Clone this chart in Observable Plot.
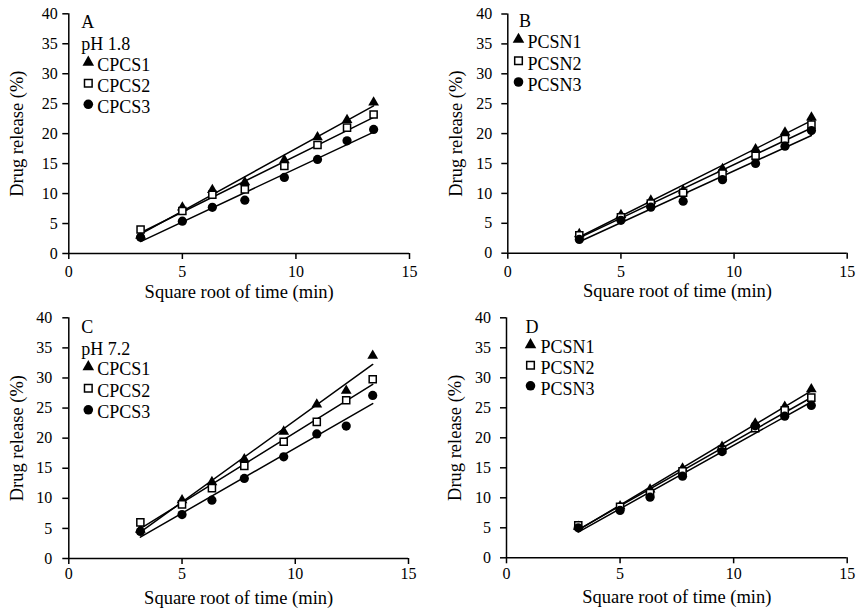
<!DOCTYPE html>
<html><head><meta charset="utf-8">
<script src="https://cdn.jsdelivr.net/npm/d3@7"></script>
<script src="https://cdn.jsdelivr.net/npm/@observablehq/plot@0.6"></script>
<style>
body{margin:0;background:#fff;}
#chart{position:relative;width:856px;height:613px;overflow:hidden;}
#chart svg{position:absolute;}
</style></head><body><div id="chart"></div>
<script>
// ---- data ----
const sqrtTime = [3.16, 5.00, 6.32, 7.75, 9.49, 10.95, 12.25, 13.42];
const xTicks = [0, 5, 10, 15];
const yTicks = [0, 5, 10, 15, 20, 25, 30, 35, 40];
const xLabel = "Square root of time (min)";
const yLabel = "Drug release (%)";

const panelA_titles = ["A", "pH 1.8"];
const panelA_names = ["CPCS1", "CPCS2", "CPCS3"];
const CPCS1_pH18 = [3.0, 7.7, 10.6, 11.9, 15.6, 19.4, 22.3, 25.2];
const CPCS2_pH18 = [4.0, 7.1, 9.8, 10.7, 14.6, 18.1, 21.0, 23.2];
const CPCS3_pH18 = [2.7, 5.4, 7.7, 8.9, 12.7, 15.7, 18.8, 20.7];

const panelB_titles = ["B"];
const panelB_names = ["PCSN1", "PCSN2", "PCSN3"];
const PCSN1_pH18 = [3.2, 6.4, 8.8, 10.5, 14.1, 17.4, 20.2, 22.7];
const PCSN2_pH18 = [3.0, 6.0, 8.3, 10.1, 13.3, 16.3, 19.1, 21.5];
const PCSN3_pH18 = [2.3, 5.5, 7.7, 8.7, 12.3, 15.0, 17.9, 20.5];

const panelC_titles = ["C", "pH 7.2"];
const panelC_names = ["CPCS1", "CPCS2", "CPCS3"];
const CPCS1_pH72 = [4.8, 9.7, 12.7, 16.5, 21.1, 25.6, 27.9, 33.7];
const CPCS2_pH72 = [6.0, 9.0, 11.7, 15.4, 19.4, 22.7, 26.3, 29.8];
const CPCS3_pH72 = [4.5, 7.3, 9.7, 13.3, 16.9, 20.7, 22.0, 27.1];

const panelD_titles = ["D"];
const panelD_names = ["PCSN1", "PCSN2", "PCSN3"];
const PCSN1_pH72 = [5.2, 8.6, 11.4, 14.9, 18.5, 22.4, 25.2, 28.1];
const PCSN2_pH72 = [5.4, 8.5, 10.8, 14.4, 18.0, 21.6, 24.6, 26.7];
const PCSN3_pH72 = [5.0, 7.9, 10.1, 13.6, 17.7, 22.0, 23.6, 25.4];

// ---- styles ----
const symbols = ["triangle", "square", "circle"];
const fills = ["black", "white", "black"];
const rData = [4.0, 4.0, 4.6];
const rLegend = [4.3, 4.3, 4.8];
const labelSize = 18.5;
const legendSize = 18;

function panel(p) {
  const rows = p.values.flatMap((vals, si) => sqrtTime.map((x, i) => ({x, y: vals[i], name: p.names[si]})));
  const fs = legendSize;
  const marks = [
    Plot.axisY({ticks: yTicks, tickSize: 6, tickPadding: p.yPad, strokeWidth: 1.5, fontSize: 16, label: null}),
    Plot.axisX({ticks: xTicks, tickSize: 6, tickPadding: p.xPad, strokeWidth: 1.5, fontSize: 16, label: null}),
    Plot.ruleX([0], {strokeWidth: 1.5}),
    Plot.ruleY([0], {strokeWidth: 1.5}),
    Plot.text([yLabel], {x: null, y: null, text: d => d, frameAnchor: "left", rotate: -90,
      textAnchor: "middle", lineAnchor: "middle", dx: -51.3, fontSize: labelSize}),
    Plot.text([xLabel], {x: null, y: null, text: d => d, frameAnchor: "bottom",
      textAnchor: "middle", lineAnchor: "top", dy: p.xLabelBase - 0.71 * labelSize, fontSize: labelSize})
  ];
  p.names.forEach(n => {
    marks.push(Plot.linearRegressionY(rows.filter(r => r.name === n),
      {x: "x", y: "y", stroke: "black", strokeWidth: 1.5, ci: 0}));
  });
  p.names.forEach((n, si) => {
    marks.push(Plot.dot(rows.filter(r => r.name === n), {x: "x", y: "y", symbol: symbols[si], r: rData[si],
      fill: fills[si], stroke: "black", strokeWidth: si === 1 ? 1.5 : 0}));
  });
  const L = p.legend;
  marks.push(Plot.text([p.titles.join("\n")], {x: null, y: null, text: d => d, frameAnchor: "top-left",
    textAnchor: "start", lineAnchor: "top", dx: L.hx, dy: L.hy - 0.71 * fs, fontSize: fs, lineHeight: L.hlh}));
  marks.push(Plot.text([p.names.join("\n")], {x: null, y: null, text: d => d, frameAnchor: "top-left",
    textAnchor: "start", lineAnchor: "top", dx: L.tx, dy: L.ty - 0.71 * fs, fontSize: fs, lineHeight: L.tlh}));
  p.names.forEach((n, si) => {
    marks.push(Plot.dot([n], {x: null, y: null, frameAnchor: "top-left", dx: L.sx, dy: L.sy[si],
      symbol: symbols[si], r: rLegend[si], fill: fills[si], stroke: "black", strokeWidth: si === 1 ? 1.5 : 0}));
  });
  const svg = Plot.plot({
    width: p.w, height: p.h,
    marginLeft: p.ml, marginRight: p.mr, marginTop: p.mt, marginBottom: p.mb,
    x: {domain: [0, 15]},
    y: {domain: [0, 40]},
    style: {fontFamily: "'Liberation Serif', 'Times New Roman', serif", color: "black", background: "white"},
    marks
  });
  svg.style.left = p.left + "px";
  svg.style.top = p.top + "px";
  document.getElementById("chart").appendChild(svg);
}

panel({left: 0, top: 0, w: 428, h: 306, ml: 68.3, mr: 19, mt: 13.3, mb: 53,
  yPad: 5, xPad: 6, xLabelBase: 44,
  titles: panelA_titles, names: panelA_names, values: [CPCS1_pH18, CPCS2_pH18, CPCS3_pH18],
  legend: {hx: 12.5, hy: 12, hlh: 1.2, tx: 28.5, ty: 54.7, tlh: 1.18, sx: 19.5, sy: [48.5, 69.5, 90.5]}});

panel({left: 428, top: 0, w: 428, h: 306, ml: 79.3, mr: 9.3, mt: 13.5, mb: 53.3,
  yPad: 9.6, xPad: 6, xLabelBase: 44,
  titles: panelB_titles, names: panelB_names, values: [PCSN1_pH18, PCSN2_pH18, PCSN3_pH18],
  legend: {hx: 11.3, hy: 10.3, hlh: 1.2, tx: 19.7, ty: 32, tlh: 1.19, sx: 10.7, sy: [25.5, 46.7, 68]}});

panel({left: 0, top: 306, w: 428, h: 307, ml: 68.3, mr: 20, mt: 11.3, mb: 55,
  yPad: 10.6, xPad: 3.3, xLabelBase: 45,
  titles: panelC_titles, names: panelC_names, values: [CPCS1_pH72, CPCS2_pH72, CPCS3_pH72],
  legend: {hx: 12.5, hy: 12, hlh: 1.25, tx: 28.5, ty: 54.7, tlh: 1.2, sx: 19.5, sy: [49, 70.5, 92]}});

panel({left: 428, top: 306, w: 428, h: 307, ml: 78, mr: 9.3, mt: 11.3, mb: 55.7,
  yPad: 9.6, xPad: 4.3, xLabelBase: 45,
  titles: panelD_titles, names: panelD_names, values: [PCSN1_pH72, PCSN2_pH72, PCSN3_pH72],
  legend: {hx: 19, hy: 13, hlh: 1.2, tx: 34, ty: 33, tlh: 1.17, sx: 24, sy: [27, 47.5, 68]}});
</script></body></html>
